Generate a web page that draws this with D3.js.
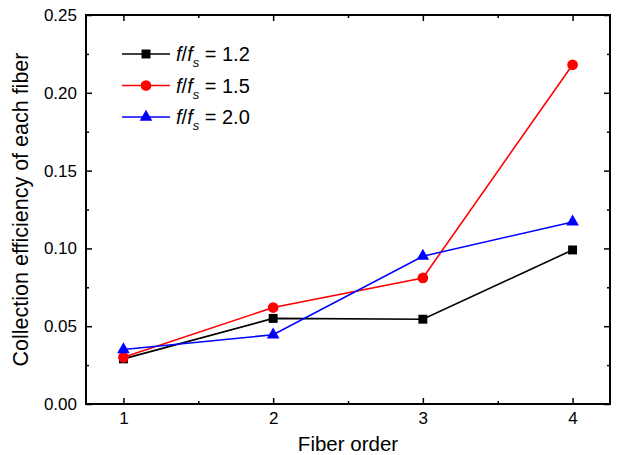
<!DOCTYPE html>
<html>
<head>
<meta charset="utf-8">
<script src="https://cdn.jsdelivr.net/npm/d3@7"></script>
<style>
  body { margin: 0; background: #fff; }
  svg { font-family: Arial, "Liberation Sans", sans-serif; }
</style>
</head>
<body>
<div id="chart-area"></div>
<script>
// DATA
// =====
var fiberOrder = [1, 2, 3, 4];
var ratio12 = [0.029, 0.055, 0.0545, 0.099];
var ratio15 = [0.030, 0.062, 0.081, 0.218];
var ratio20 = [0.035, 0.0445, 0.095, 0.117];
var seriesLabels = ['1.2', '1.5', '2.0'];
var yTicks = [0, 0.05, 0.10, 0.15, 0.20, 0.25];

var series = [
    { label: seriesLabels[0], values: ratio12, color: '#000000', symbol: d3.symbolSquare, size: 80 },
    { label: seriesLabels[1], values: ratio15, color: '#ff0000', symbol: d3.symbolCircle, size: 90 },
    { label: seriesLabels[2], values: ratio20, color: '#0000ff', symbol: d3.symbolTriangle, size: 70 }
];

// CANVAS + MARGINS
// =================
var margin = { left: 86, right: 12, top: 15, bottom: 51 };
var width = 622 - margin.left - margin.right,
    height = 455 - margin.top - margin.bottom;

var svg = d3.select('#chart-area')
    .append('svg')
        .attr('width', 622)
        .attr('height', 455);

var g = svg.append('g')
    .attr('transform', 'translate(' + margin.left + ',' + margin.top + ')');

var x = d3.scaleLinear().domain([0.75, 4.25]).range([0, width]);
var y = d3.scaleLinear().domain([0, 0.25]).range([height, 0]);

var xMinor = [1.5, 2.5, 3.5];
var yMinor = d3.range(0.025, 0.25, 0.05);

// AXES (ticks inward on all four sides)
// ======================================
function styleAxis(sel) {
    sel.select('.domain').remove();
    sel.selectAll('line').attr('stroke', '#000').attr('stroke-width', 1.5);
    sel.selectAll('text').attr('font-size', '17px').attr('fill', '#000');
}

g.append('g')
    .attr('transform', 'translate(0,' + height + ')')
    .call(d3.axisBottom(x).tickValues(fiberOrder).tickFormat(d3.format('d'))
        .tickSizeInner(-6).tickPadding(8))
    .call(styleAxis);
g.append('g')
    .attr('transform', 'translate(0,' + height + ')')
    .call(d3.axisBottom(x).tickValues(xMinor).tickFormat('').tickSizeInner(-3))
    .call(styleAxis);

g.append('g')
    .call(d3.axisTop(x).tickValues(fiberOrder).tickFormat('').tickSizeInner(-6))
    .call(styleAxis);
g.append('g')
    .call(d3.axisTop(x).tickValues(xMinor).tickFormat('').tickSizeInner(-3))
    .call(styleAxis);

g.append('g')
    .call(d3.axisLeft(y).tickValues(yTicks).tickFormat(d3.format('.2f'))
        .tickSizeInner(-6).tickPadding(9))
    .call(styleAxis);
g.append('g')
    .call(d3.axisLeft(y).tickValues(yMinor).tickFormat('').tickSizeInner(-3))
    .call(styleAxis);

g.append('g')
    .attr('transform', 'translate(' + width + ',0)')
    .call(d3.axisRight(y).tickValues(yTicks).tickFormat('').tickSizeInner(-6))
    .call(styleAxis);
g.append('g')
    .attr('transform', 'translate(' + width + ',0)')
    .call(d3.axisRight(y).tickValues(yMinor).tickFormat('').tickSizeInner(-3))
    .call(styleAxis);

// frame
g.append('rect')
    .attr('x', 0).attr('y', 0)
    .attr('width', width).attr('height', height)
    .attr('fill', 'none')
    .attr('stroke', '#000')
    .attr('stroke-width', 2);

// LABELS
// =======
g.append('text')
    .attr('x', width / 2)
    .attr('y', height + 47)
    .attr('font-size', '20.5px')
    .attr('text-anchor', 'middle')
    .text('Fiber order');

g.append('text')
    .attr('x', -(height / 2))
    .attr('y', -58)
    .attr('font-size', '21.5px')
    .attr('text-anchor', 'middle')
    .attr('transform', 'rotate(-90)')
    .text('Collection efficiency of each fiber');

// SERIES
// =======
var line = d3.line()
    .x(function(d, i) { return x(fiberOrder[i]); })
    .y(function(d) { return y(d); });

series.forEach(function(s) {
    g.append('path')
        .datum(s.values)
        .attr('d', line)
        .attr('fill', 'none')
        .attr('stroke', s.color)
        .attr('stroke-width', 1.6);
});

series.forEach(function(s) {
    g.append('g').selectAll('path')
        .data(s.values)
        .enter()
        .append('path')
        .attr('d', d3.symbol().type(s.symbol).size(s.size))
        .attr('transform', function(d, i) {
            return 'translate(' + x(fiberOrder[i]) + ',' + y(d) + ')';
        })
        .attr('fill', s.color);
});

// LEGEND
// =======
var legend = g.append('g').attr('transform', 'translate(36,39)');
series.forEach(function(s, i) {
    var row = legend.append('g').attr('transform', 'translate(0,' + (i * 31.5) + ')');
    row.append('line')
        .attr('x1', 0).attr('x2', 48)
        .attr('stroke', s.color).attr('stroke-width', 1.6);
    row.append('path')
        .attr('d', d3.symbol().type(s.symbol).size(s.size))
        .attr('transform', 'translate(24,0)')
        .attr('fill', s.color);
    var t = row.append('text')
        .attr('x', 54)
        .attr('y', 7)
        .attr('font-size', '20px');
    t.append('tspan').attr('font-style', 'italic').text('f');
    t.append('tspan').text('/');
    t.append('tspan').attr('font-style', 'italic').text('f');
    t.append('tspan').attr('font-style', 'italic').attr('font-size', '13px').attr('dy', 6).text('s');
    t.append('tspan').attr('dy', -6).text(' = ' + s.label);
});
</script>
</body>
</html>
